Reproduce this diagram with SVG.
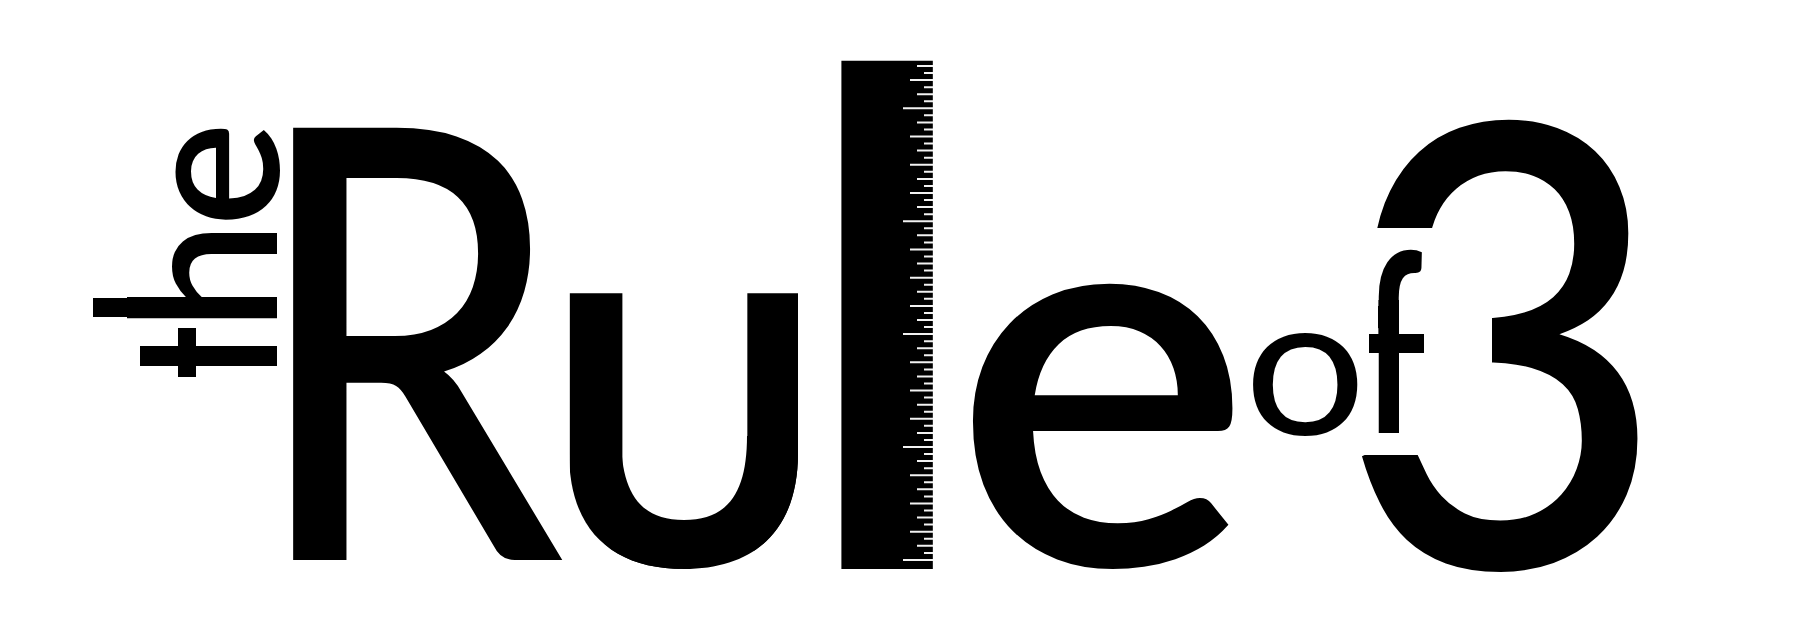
<svg xmlns="http://www.w3.org/2000/svg" width="1800" height="636" viewBox="0 0 1800 636">
<style>
text{font-family:Lato,"Open Sans","Liberation Sans",sans-serif;fill:#000}
.tick{stroke:#f2f2f2;stroke-width:2;fill:none}
</style>
<defs>
<clipPath id="tclip"><rect x="140" y="346" width="137" height="20"/><rect x="178" y="328" width="18" height="49"/></clipPath>
<clipPath id="uclip"><path d="M569 280H798V453C798 530 755 569 684 569C612 569 569 530 569 453Z"/></clipPath>
<clipPath id="fclip"><rect x="1355" y="240" width="80" height="64"/><rect x="1378" y="300" width="21" height="133"/></clipPath>
<clipPath id="threeclip"><path d="M1300 100H1660V600H1300V455H1492V228H1300Z"/></clipPath>
<path id="period" class="tick" d="M903 0H933M924 7.06H933M917 14.1H933M924 21.2H933M910 28.2H933M924 35.3H933M917 42.3H933M924 49.4H933M910 56.5H933M924 63.5H933M917 70.6H933M924 77.6H933M910 84.7H933M924 91.7H933M917 98.8H933M924 105.9H933"/>
</defs>
<rect width="1800" height="636" fill="#fff"/>
<g id="the">
<rect x="140" y="346" width="137" height="20"/><rect x="178" y="328" width="18" height="49"/>
<g clip-path="url(#tclip)"><text font-size="195" font-weight="600" transform="translate(277,378) rotate(-90)">t</text></g>
<text font-size="202" font-weight="600" transform="translate(277,331) rotate(-90) scale(.97,1)">h</text>
<rect x="93" y="298" width="62" height="19"/>
<text font-size="198" font-weight="600" transform="translate(279,227) rotate(-90)">e</text>
</g>
<text id="R" font-size="602" font-weight="500" transform="translate(249,560) scale(.83,1)">R</text>
<g id="u">
<path d="M570.5 436V453C570.5 530 612 569 684 569C755 569 798 530 798 453V436H747C747 490 730 520 684 520C638 520 621 490 621 436Z"/>
<g clip-path="url(#uclip)"><text font-size="537" font-weight="500" transform="translate(536,566)">u</text></g>
</g>
<g id="l"><text font-size="690" transform="translate(766,569) scale(1.487,1)">l</text>
<g id="ruler-ticks">
<path class="tick" d="M917 66H933M924 73.1H933M910 80.1H933M924 87.2H933M917 94.2H933M924 101.3H933M903 559.9H933"/>
<use href="#period" y="108.3"/><use href="#period" y="221.2"/><use href="#period" y="334.1"/><use href="#period" y="447"/>
</g></g>
<text id="e" font-size="543" font-weight="600" transform="translate(952,565) scale(1.04,1)">e</text>
<text id="o" font-size="198" font-weight="400" transform="translate(1244,435) scale(1.09,1)">o</text>
<g id="f">
<g clip-path="url(#fclip)"><text font-size="250" font-weight="700" transform="translate(1362.5,433) scale(.67,1)">f</text></g>
<rect x="1369" y="334" width="55" height="19"/>
<rect x="1378.5" y="300" width="20.5" height="40"/>
</g>
<g id="three" clip-path="url(#threeclip)"><text font-size="616" font-weight="500" transform="translate(1339,567) scale(.92,1)">3</text></g>
</svg>
